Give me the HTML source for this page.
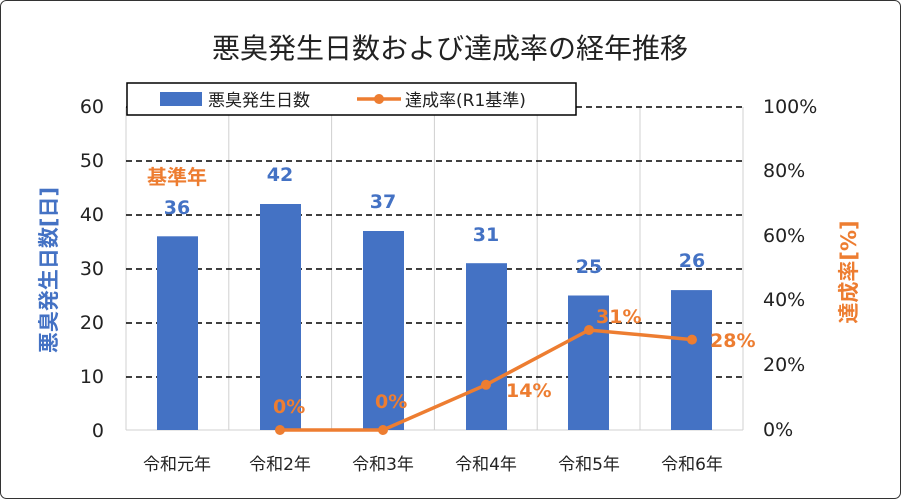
<!DOCTYPE html>
<html><head><meta charset="utf-8"><style>
body{margin:0;background:#fff}
svg{display:block;font-family:"DejaVu Sans","Noto Sans CJK JP",sans-serif}
</style></head><body>
<svg width="901" height="499" viewBox="0 0 901 499">
<rect x="0.5" y="0.5" width="900" height="498" rx="6" fill="#fff" stroke="#333" stroke-width="1"/>
<text x="450" y="58" font-size="28" text-anchor="middle" fill="#222" font-family="Noto Sans CJK JP,sans-serif">悪臭発生日数および達成率の経年推移</text>
<g stroke="#d0d0d0" stroke-width="1">
<line x1="126" y1="107" x2="126" y2="430"/><line x1="228.8" y1="107" x2="228.8" y2="430"/><line x1="331.6" y1="107" x2="331.6" y2="430"/><line x1="434.4" y1="107" x2="434.4" y2="430"/><line x1="537.2" y1="107" x2="537.2" y2="430"/><line x1="640" y1="107" x2="640" y2="430"/><line x1="743" y1="107" x2="743" y2="430"/>
</g>
<g stroke="#000" stroke-width="1.5" stroke-dasharray="6,4">
<line x1="126" y1="107" x2="745" y2="107"/><line x1="126" y1="161" x2="745" y2="161"/><line x1="126" y1="215" x2="745" y2="215"/><line x1="126" y1="269" x2="745" y2="269"/><line x1="126" y1="323" x2="745" y2="323"/><line x1="126" y1="377" x2="745" y2="377"/>
</g>
<line x1="126" y1="430" x2="743" y2="430" stroke="#d0d0d0"/>
<g fill="#4472c4">
<rect x="157" y="236.3" width="41" height="193.7"/>
<rect x="260" y="204" width="41" height="226"/>
<rect x="363" y="231" width="41" height="199"/>
<rect x="466" y="263.2" width="41" height="166.8"/>
<rect x="568" y="295.5" width="41" height="134.5"/>
<rect x="671" y="290.1" width="41" height="139.9"/>
</g>
<g font-size="19" font-weight="bold" fill="#4472c4" text-anchor="middle">
<text x="177" y="214">36</text><text x="280" y="181">42</text><text x="383" y="208">37</text><text x="486" y="241">31</text><text x="589" y="273">25</text><text x="692" y="267">26</text>
</g>
<text x="177" y="184" font-size="20" font-weight="bold" fill="#ed7d31" text-anchor="middle">基準年</text>
<polyline points="280,430 383,430 486,384.8 589,330 692,339.6" fill="none" stroke="#ed7d31" stroke-width="3.5"/>
<g fill="#ed7d31"><circle cx="280" cy="430" r="5"/><circle cx="383" cy="430" r="5"/><circle cx="486" cy="384.8" r="5"/><circle cx="589" cy="330" r="5"/><circle cx="692" cy="339.6" r="5"/></g>
<g font-size="19" font-weight="bold" fill="#ed7d31">
<text x="273" y="413">0%</text><text x="375" y="408">0%</text><text x="506" y="397">14%</text><text x="596" y="323">31%</text><text x="710" y="347">28%</text>
</g>
<g font-size="19" fill="#222" text-anchor="end">
<text x="104" y="113">60</text><text x="104" y="167">50</text><text x="104" y="221">40</text><text x="104" y="275">30</text><text x="104" y="329">20</text><text x="104" y="383">10</text><text x="104" y="437">0</text>
</g>
<g font-size="19" fill="#222">
<text x="763" y="113">100%</text><text x="763" y="177">80%</text><text x="763" y="242">60%</text><text x="763" y="306">40%</text><text x="763" y="371">20%</text><text x="763" y="436">0%</text>
</g>
<g font-size="17" fill="#222" text-anchor="middle">
<text x="177" y="470">令和元年</text><text x="280" y="470">令和2年</text><text x="383" y="470">令和3年</text><text x="486" y="470">令和4年</text><text x="589" y="470">令和5年</text><text x="692" y="470">令和6年</text>
</g>
<text transform="translate(56,270) rotate(-90)" font-size="21" font-weight="bold" fill="#4472c4" text-anchor="middle">悪臭発生日数[日]</text>
<text transform="translate(856,272) rotate(-90)" font-size="21" font-weight="bold" fill="#ed7d31" text-anchor="middle">達成率[%]</text>
<rect x="127" y="83" width="449" height="32" fill="#fff" stroke="#000" stroke-width="1.5"/>
<rect x="160" y="92" width="42" height="14" fill="#4472c4"/>
<text x="208" y="106" font-size="17" fill="#222">悪臭発生日数</text>
<line x1="357" y1="99" x2="401" y2="99" stroke="#ed7d31" stroke-width="3.5"/><circle cx="379" cy="99" r="5" fill="#ed7d31"/>
<text x="405" y="106" font-size="17" fill="#222">達成率(R1基準)</text>
</svg>
</body></html>
